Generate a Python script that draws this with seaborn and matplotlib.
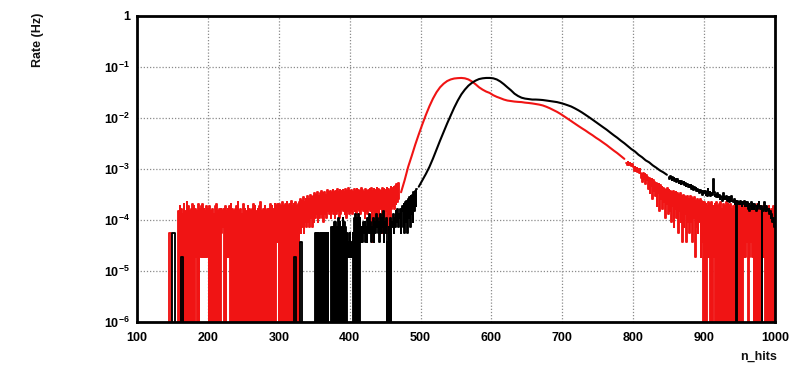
import numpy as np
import pandas as pd
import matplotlib
matplotlib.use("Agg")
import matplotlib.pyplot as plt
import seaborn as sns
from matplotlib.ticker import LogLocator, MultipleLocator, NullFormatter

# Rate carried by one recorded event in a 1-wide n_hits bin (Hz)
COUNT_UNIT = 1.85e-5

# ---- red run ------------------------------------------------------------
# low n_hits: one character per 1-wide bin, event counts in base 36
red_low_start = 140
red_low_counts = (
    "0000033300" "0000000080" "a09070b080" "c0a08090b0" "a09180b091"
    "a1b19181a1" "90a0809070" "a0b0809093" "8490a08191" "a0b0908090"
    "a0c0809070" "b09080a090" "8090b0a080" "90a0c08090" "a0809090b0"
    "a090b0a2b2" "0b0a0c0a0b" "0c0a0b0d0a" "0b0c0a0b0c" "e3d4f3c5e4"
    "g5e4h6f4g5" "i6h7j5g6i7" "k6i5j7h6l8" "j7k6i8l7j6" "k7m8j6l7k9"
    "l8j7m6k8n7" "k8l7j9m8k7" "m9l8k7n9l8" "j6m8k7l9m8" "n2k8m3l6n8"
    "m4l9k3n7m5" "l8n3m7k4o9" "nao9pbrcte"
)
# main peak: rate (Hz) in 5-wide bins
red_main_width = 5
red_main_rate = [
    3.5e-4, 6.0e-4, 1.1e-3, 1.8e-3, 3.0e-3, 4.8e-3, 7.5e-3, 1.15e-2,
    1.7e-2, 2.4e-2, 3.2e-2, 4.0e-2, 4.7e-2, 5.3e-2, 5.7e-2, 5.95e-2,
    6.05e-2, 6.1e-2, 6.0e-2, 5.7e-2, 5.2e-2, 4.6e-2, 4.0e-2, 3.6e-2,
    3.3e-2, 3.1e-2, 2.8e-2, 2.6e-2, 2.45e-2, 2.3e-2, 2.2e-2, 2.15e-2,
    2.1e-2, 2.07e-2, 2.05e-2, 2.0e-2, 1.97e-2, 1.93e-2, 1.88e-2, 1.83e-2,
    1.76e-2, 1.66e-2, 1.55e-2, 1.43e-2, 1.32e-2, 1.2e-2, 1.08e-2, 9.7e-3,
    8.7e-3, 7.8e-3, 7.0e-3, 6.3e-3, 5.7e-3, 5.1e-3, 4.6e-3, 4.1e-3,
    3.7e-3, 3.3e-3, 2.95e-3, 2.6e-3, 2.3e-3, 2.05e-3, 1.8e-3, 1.58e-3,
]
# high n_hits tail: event counts in 1-wide bins
red_tail_counts = [
    72, 66, 75, 70, 64, 71, 68, 62, 69, 60,
    58, 50, 60, 52, 49, 57, 47, 55, 46, 53,
    46, 36, 44, 30, 45, 34, 43, 28, 42, 33,
    38, 22, 36, 18, 35, 25, 34, 14, 33, 20,
    30, 16, 29, 10, 28, 18, 27, 8, 26, 14,
    24, 9, 23, 12, 22, 6, 21, 11, 23, 7,
    21, 8, 20, 5, 19, 10, 20, 4, 18, 9,
    19, 6, 18, 3, 17, 8, 18, 5, 16, 2,
    17, 4, 16, 7, 15, 2, 16, 5, 14, 3,
    16, 5, 15, 2, 14, 6, 15, 1, 13, 4,
    14, 3, 13, 5, 14, 1, 13, 2, 12, 0,
    12, 0, 11, 0, 10, 1, 12, 1, 11, 0,
    12, 0, 10, 9, 1, 11, 0, 12, 0, 10,
    0, 11, 0, 12, 0, 9, 0, 11, 0, 10,
    0, 12, 0, 11, 0, 10, 0, 11, 0, 9,
    0, 10, 0, 12, 0, 11, 0, 10, 0, 11,
    0, 9, 0, 10, 0, 10, 1, 11, 1, 9,
    2, 10, 0, 11, 1, 10, 2, 9, 1, 10,
    0, 9, 0, 10, 0, 11, 0, 9, 0, 10,
    0, 9, 1, 10, 1, 8, 0, 10, 0, 9,
    0, 10, 0, 8, 0, 9, 0, 10, 0, 8,
]

# ---- black run ----------------------------------------------------------
black_low_start = 140
black_low_counts = (
    "0000000003" "3330000000" "0011100000" + "0000000000" * 15 +
    "0111000000" "2220000000" "0000000000" "0303030303" "0303030303"
    "0000404050" "5040605040" "6050403121" "3121306070" "6070632425"
    "3524263735" "2436253746" "3527364825" "3602040605" "4736485947"
    "6938a4b3c5" "d3e6f4g7h5" "j8kam"
)
black_main_width = 5
black_main_rate = [
    4.5e-4, 6.0e-4, 8.0e-4, 1.1e-3, 1.6e-3, 2.4e-3, 3.6e-3, 5.3e-3,
    7.8e-3, 1.12e-2, 1.6e-2, 2.2e-2, 2.9e-2, 3.6e-2, 4.3e-2, 4.9e-2,
    5.4e-2, 5.8e-2, 6.0e-2, 6.1e-2, 6.1e-2, 6.0e-2, 5.7e-2, 5.2e-2,
    4.6e-2, 4.0e-2, 3.5e-2, 3.0e-2, 2.7e-2, 2.5e-2, 2.4e-2, 2.35e-2,
    2.3e-2, 2.3e-2, 2.28e-2, 2.25e-2, 2.2e-2, 2.15e-2, 2.1e-2, 2.05e-2,
    1.97e-2, 1.88e-2, 1.78e-2, 1.68e-2, 1.55e-2, 1.42e-2, 1.29e-2, 1.16e-2,
    1.04e-2, 9.3e-3, 8.3e-3, 7.4e-3, 6.6e-3, 5.9e-3, 5.2e-3, 4.6e-3,
    4.1e-3, 3.6e-3, 3.2e-3, 2.8e-3, 2.45e-3, 2.2e-3, 1.9e-3, 1.7e-3,
    1.48e-3, 1.35e-3, 1.18e-3, 1.06e-3, 9.4e-4, 8.6e-4, 7.7e-4,
]
black_tail_counts = [
    38, 35, 40, 36, 33, 37, 34, 36, 32, 35,
    33, 30, 34, 31, 29, 32, 30, 28, 31, 29,
    28, 30, 26, 29, 25, 27, 28, 24, 26, 25,
    24, 26, 22, 25, 23, 21, 24, 22, 23, 20,
    22, 20, 21, 18, 21, 19, 20, 17, 19, 20,
    18, 20, 17, 19, 16, 22, 18, 17, 19, 16,
    18, 17, 24, 34, 19, 16, 17, 15, 18, 16,
    15, 17, 14, 16, 15, 13, 16, 18, 14, 15,
    14, 16, 13, 15, 14, 12, 15, 13, 16, 14,
    13, 12, 14, 11, 13, 0, 12, 13, 11, 12,
    11, 13, 12, 10, 12, 11, 13, 10, 12, 11,
    10, 12, 9, 11, 8, 10, 12, 9, 11, 10,
    9, 11, 10, 8, 10, 9, 11, 12, 10, 9,
    10, 0, 9, 8, 10, 12, 9, 8, 10, 9,
    8, 9, 7, 8, 6, 7, 5, 6, 4, 4,
]

x_ticks = [100, 200, 300, 400, 500, 600, 700, 800, 900, 1000]
y_ticks = [1e-6, 1e-5, 1e-4, 1e-3, 1e-2, 1e-1, 1]
y_tick_labels = [r"$10^{-6}$", r"$10^{-5}$", r"$10^{-4}$", r"$10^{-3}$",
                 r"$10^{-2}$", r"$10^{-1}$", "1"]


def segment(start, width, rates):
    """Bins of equal width starting at `start`; returns table, edges, end."""
    left = start + width * np.arange(len(rates), dtype=float)
    df = pd.DataFrame({"n_hits": left + width / 2.0, "rate": list(rates)})
    edges = [float(v) for v in np.append(left, left[-1] + width)]
    return df, edges, float(edges[-1])


def build(low_start, low_counts, main_width, main_rate, tail_counts):
    low, low_edges, end = segment(low_start, 1.0,
                                  [int(c, 36) * COUNT_UNIT for c in low_counts])
    main, main_edges, end = segment(end, float(main_width), main_rate)
    tail, tail_edges, _ = segment(end, 1.0, [c * COUNT_UNIT for c in tail_counts])
    return [(low, low_edges, "step"), (main, main_edges, "poly"),
            (tail, tail_edges, "step")]


red_parts = build(red_low_start, red_low_counts, red_main_width,
                  red_main_rate, red_tail_counts)
black_parts = build(black_low_start, black_low_counts, black_main_width,
                    black_main_rate, black_tail_counts)

sns.set_theme(style="white")
plt.rcParams["font.family"] = ["Liberation Sans", "DejaVu Sans"]
plt.rcParams["mathtext.fontset"] = "custom"
plt.rcParams["mathtext.rm"] = "Liberation Sans:bold"
plt.rcParams["mathtext.it"] = "Liberation Sans:bold"
plt.rcParams["mathtext.bf"] = "Liberation Sans:bold"
plt.rcParams["mathtext.default"] = "rm"

fig = plt.figure(figsize=(8.0, 3.68), dpi=100)
ax = fig.add_axes([137 / 800, 1 - 322 / 368, (775 - 137) / 800, (322 - 16) / 368])
ax.set_yscale("log", nonpositive="clip")

RED = "#f01414"
for parts, col in [(red_parts, RED), (black_parts, "black")]:
    for df, edges, element in parts:
        sns.histplot(data=df, x="n_hits", weights="rate", bins=edges,
                     element=element, fill=False, color=col,
                     linewidth=1.5 if element == "poly" else 1.35, ax=ax)

ax.set_xlim(100, 1000)
ax.set_ylim(1e-6, 1)
ax.set_xlabel("")
ax.set_ylabel("")

ax.set_xticks(x_ticks)
ax.set_xticklabels([str(t) for t in x_ticks])
ax.xaxis.set_minor_locator(MultipleLocator(20))
ax.set_yticks(y_ticks)
ax.set_yticklabels(y_tick_labels)
ax.yaxis.set_minor_locator(LogLocator(base=10, subs=np.arange(2, 10)))
ax.yaxis.set_minor_formatter(NullFormatter())

for lab in ax.get_xticklabels() + ax.get_yticklabels():
    lab.set_fontweight("bold")
    lab.set_fontsize(9)
    lab.set_color("#111111")

ax.tick_params(axis="both", which="both", direction="in", top=False,
               right=False, colors="black", width=1.0)
ax.tick_params(axis="y", which="major", length=9, pad=5)
ax.tick_params(axis="y", which="minor", length=5)
ax.tick_params(axis="x", which="major", length=7, pad=7)
ax.tick_params(axis="x", which="minor", length=3.5)

ax.grid(True, which="major", linestyle=(0, (1, 1.5)), color="#8a8a8a",
        linewidth=0.9)
ax.set_axisbelow(True)
for sp in ax.spines.values():
    sp.set_visible(True)
    sp.set_color("black")
    sp.set_linewidth(2.0)

fig.text(38 / 800, 1 - 13 / 368, "Rate (Hz)", rotation=90, ha="center",
         va="top", fontsize=9, fontweight="bold", color="#111111")
fig.text(777 / 800, 1 - 357 / 368, "n_hits", ha="right", va="center",
         fontsize=9, fontweight="bold", color="#111111")

fig.savefig("out.png", dpi=100, facecolor="white")
